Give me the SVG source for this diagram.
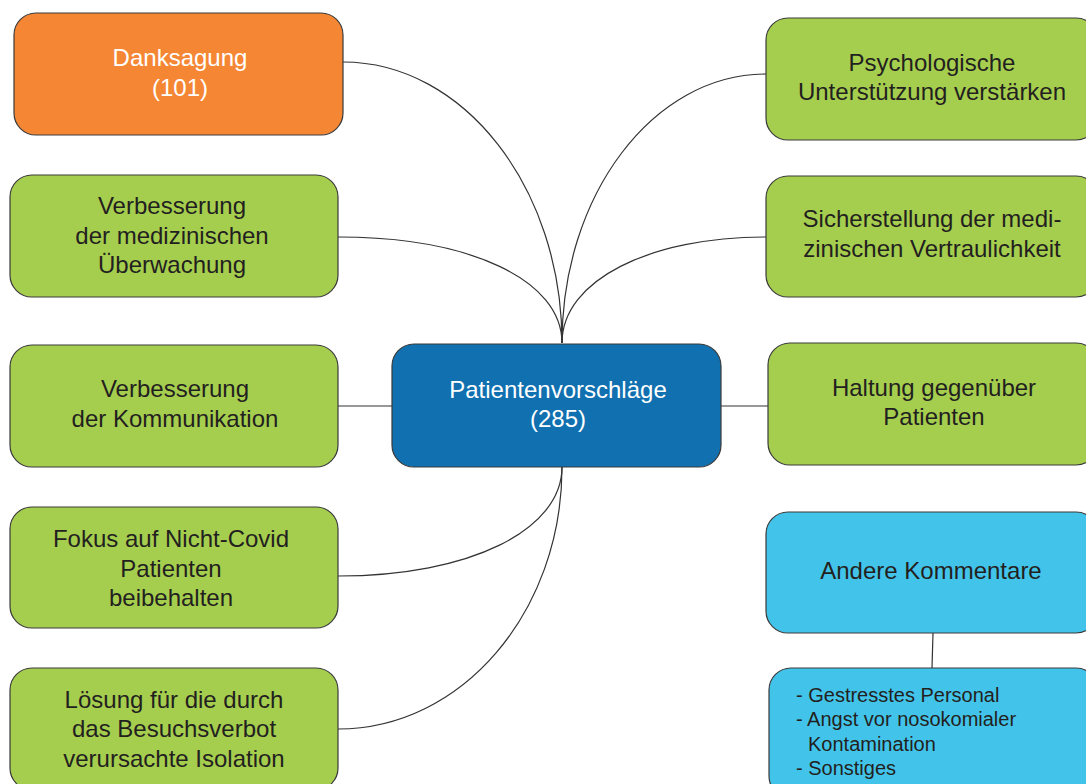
<svg xmlns="http://www.w3.org/2000/svg" width="1086" height="784" viewBox="0 0 1086 784">
<style>
.box{stroke:#3a3a3a;stroke-width:1.2}
.orange{fill:#F58634}
.green{fill:#A6CE4E}
.blue{fill:#1070B0}
.cyan{fill:#42C4EA}
text{font-family:"Liberation Sans",Arial,sans-serif;font-size:24px;text-anchor:middle;fill:#231f20}
text.w{fill:#ffffff}
text.s{font-size:20px;text-anchor:start}
.conn path,.conn line{fill:none;stroke:#333333;stroke-width:1.2}
</style>
<rect width="1086" height="784" fill="#ffffff"/>
<g class="conn">
<path d="M343,62 C464,62 562,188 562,343"/>
<path d="M338,237 C470,237 562,280 562,343"/>
<path d="M766,74 C653,74 562,195 562,343"/>
<path d="M766,237 C650,237 562,280 562,343"/>
<line x1="338" y1="406" x2="392" y2="406"/>
<line x1="721" y1="406" x2="768" y2="406"/>
<path d="M562,467 C562,530 470,576 338,576"/>
<path d="M562,467 C562,612 462,729 338,729"/>
<line x1="933" y1="633" x2="932" y2="668"/>
</g>
<g id="danksagung">
<rect class="box orange" x="14" y="13" width="329" height="122" rx="22"/>
<text class="w" x="180" y="66">Danksagung</text>
<text class="w" x="180" y="96">(101)</text>
</g>
<g id="medizinische-ueberwachung">
<rect class="box green" x="10" y="175" width="328" height="122" rx="22"/>
<text x="172" y="214">Verbesserung</text>
<text x="172" y="243.5">der medizinischen</text>
<text x="172" y="273">Überwachung</text>
</g>
<g id="kommunikation">
<rect class="box green" x="10" y="345" width="328" height="122" rx="22"/>
<text x="175" y="397">Verbesserung</text>
<text x="175" y="427">der Kommunikation</text>
</g>
<g id="fokus">
<rect class="box green" x="10" y="507" width="328" height="121" rx="22"/>
<text x="171" y="547">Fokus auf Nicht-Covid</text>
<text x="171" y="577">Patienten</text>
<text x="171" y="606">beibehalten</text>
</g>
<g id="loesung">
<rect class="box green" x="10" y="668" width="328" height="122" rx="22"/>
<text x="174" y="708">Lösung für die durch</text>
<text x="174" y="737">das Besuchsverbot</text>
<text x="174" y="767">verursachte Isolation</text>
</g>
<g id="patientenvorschlaege">
<rect class="box blue" x="392" y="344" width="329" height="123" rx="22"/>
<text class="w" x="558" y="398">Patientenvorschläge</text>
<text class="w" x="558" y="427">(285)</text>
</g>
<g id="psychologische-unterstuetzung">
<rect class="box green" x="766" y="18" width="332" height="122" rx="22"/>
<text x="932" y="71">Psychologische</text>
<text x="932" y="100">Unterstützung verstärken</text>
</g>
<g id="vertraulichkeit">
<rect class="box green" x="766" y="176" width="332" height="121" rx="22"/>
<text x="932" y="227">Sicherstellung der medi-</text>
<text x="932" y="257">zinischen Vertraulichkeit</text>
</g>
<g id="haltung">
<rect class="box green" x="768" y="343" width="330" height="122" rx="22"/>
<text x="934" y="396">Haltung gegenüber</text>
<text x="934" y="425">Patienten</text>
</g>
<g id="andere-kommentare">
<rect class="box cyan" x="766" y="512" width="332" height="121" rx="22"/>
<text x="931" y="579">Andere Kommentare</text>
</g>
<g id="andere-details">
<rect class="box cyan" x="769" y="668" width="329" height="130" rx="22"/>
<text class="s" x="796" y="702">- Gestresstes Personal</text>
<text class="s" x="796" y="726">- Angst vor nosokomialer</text>
<text class="s" x="808" y="751">Kontamination</text>
<text class="s" x="796" y="775">- Sonstiges</text>
</g>
</svg>
